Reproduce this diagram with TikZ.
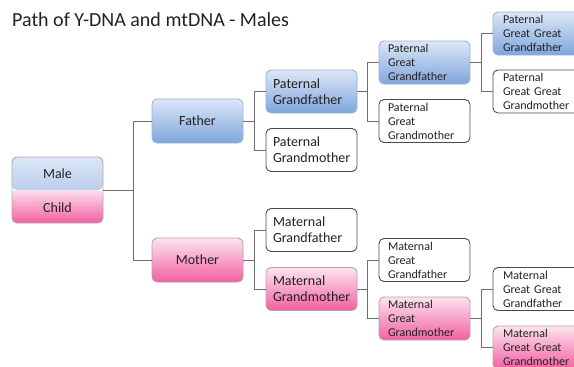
\documentclass[tikz,border=0pt]{standalone}
\usepackage{fontspec}
\setmainfont{Carlito}
\definecolor{bluetop}{HTML}{DCE7F7}
\definecolor{bluebot}{HTML}{7FA5DC}
\definecolor{pinktop}{HTML}{FCE4EF}
\definecolor{pinkbot}{HTML}{F25FA1}
\definecolor{bluebd}{HTML}{9CB2D6}
\definecolor{pinkbd}{HTML}{B9A2AC}
\definecolor{linec}{HTML}{6E6E6E}
\definecolor{txt}{HTML}{222222}
\begin{document}
\begin{tikzpicture}[x=1pt,y=-1pt,
  every node/.style={text=txt},
  basebox/.style={rounded corners=5pt, minimum width=91pt, inner sep=0pt, line width=0.9pt},
  plain/.style={basebox, draw=black!70, fill=white},
  bluebox/.style={basebox, draw=bluebd, top color=bluetop, bottom color=bluebot},
  pinkbox/.style={basebox, draw=pinkbd, top color=pinktop, bottom color=pinkbot},
  lvone/.style={minimum height=44pt, font=\fontsize{14}{16}\selectfont, align=center},
  lvtwo/.style={minimum height=43pt, text width=77pt, inner xsep=7pt, align=left, font=\fontsize{14}{16}\selectfont},
  lvthree/.style={minimum height=43pt, text width=73pt, inner xsep=9pt, align=left, font=\fontsize{12}{14}\selectfont},
  lvfour/.style={minimum height=43pt, text width=71pt, inner xsep=10pt, align=left, font=\fontsize{12}{14}\selectfont},
  conn/.style={draw=linec, line width=1pt}
]
\useasboundingbox (0,0) rectangle (574,367);
\clip (0,0) rectangle (574,367);
\fill[white] (0,0) rectangle (574,367);

\node[anchor=base west, font=\fontsize{20}{24}\selectfont, inner sep=0pt] (title) at (12,26) {Path of Y-DNA and mtDNA - Males};

% child box
\node[basebox, draw=pinkbd, minimum height=66pt,
  path picture={
    \shade[top color=bluetop, bottom color=bluebot!75!bluetop] (path picture bounding box.north west) rectangle (path picture bounding box.east);
    \shade[top color=pinktop!60!pinkbot!40, bottom color=pinkbot] (path picture bounding box.west) rectangle (path picture bounding box.south east);
  }] (mc) at (57.5,190) {};
\node[font=\fontsize{14}{16}\selectfont] (male) at (57.5,174) {Male};
\node[font=\fontsize{14}{16}\selectfont] (child) at (57.5,208) {Child};

% level 1
\node[bluebox, lvone] (father) at (197.5,121) {Father};
\node[pinkbox, lvone] (mother) at (197.5,260) {Mother};

% level 2
\node[bluebox, lvtwo] (pgf) at (311.5,91.5) {Paternal\\Grandfather};
\node[plain, lvtwo] (pgm) at (311.5,150) {Paternal\\Grandmother};
\node[plain, lvtwo] (mgf) at (311.5,230) {Maternal\\Grandfather};
\node[pinkbox, lvtwo] (mgm) at (311.5,289) {Maternal\\Grandmother};

% level 3
\node[bluebox, lvthree] (pggf) at (424.5,62.5) {Paternal\\Great\\Grandfather};
\node[plain, lvthree] (pggm) at (424.5,121) {Paternal\\Great\\Grandmother};
\node[plain, lvthree] (mggf) at (424.5,260) {Maternal\\Great\\Grandfather};
\node[pinkbox, lvthree] (mggm) at (424.5,318.5) {Maternal\\Great\\Grandmother};

% level 4
\node[bluebox, lvfour] (pgggf) at (538.5,33.5) {Paternal\\Great Great\\Grandfather};
\node[plain, lvfour] (pgggm) at (538.5,91.5) {Paternal\\Great Great\\Grandmother};
\node[plain, lvfour] (mgggf) at (538.5,289) {Maternal\\Great Great\\Grandfather};
\node[pinkbox, lvfour] (mgggm) at (538.5,347.5) {Maternal\\Great Great\\Grandmother};

% connectors
\draw[conn] (mc.east) -- ++(30,0) |- (father.west);
\draw[conn] (mc.east) -- ++(30,0) |- (mother.west);
\draw[conn] (father.east) -- ++(11.5,0) |- (pgf.west);
\draw[conn] (father.east) -- ++(11.5,0) |- (pgm.west);
\draw[conn] (mother.east) -- ++(11.5,0) |- (mgf.west);
\draw[conn] (mother.east) -- ++(11.5,0) |- (mgm.west);
\draw[conn] (pgf.east) -- ++(10,0) |- (pggf.west);
\draw[conn] (pgf.east) -- ++(10,0) |- (pggm.west);
\draw[conn] (mgm.east) -- ++(10,0) |- (mggf.west);
\draw[conn] (mgm.east) -- ++(10,0) |- (mggm.west);
\draw[conn] (pggf.east) -- ++(11,0) |- (pgggf.west);
\draw[conn] (pggf.east) -- ++(11,0) |- (pgggm.west);
\draw[conn] (mggm.east) -- ++(11,0) |- (mgggf.west);
\draw[conn] (mggm.east) -- ++(11,0) |- (mgggm.west);
\end{tikzpicture}
\end{document}
